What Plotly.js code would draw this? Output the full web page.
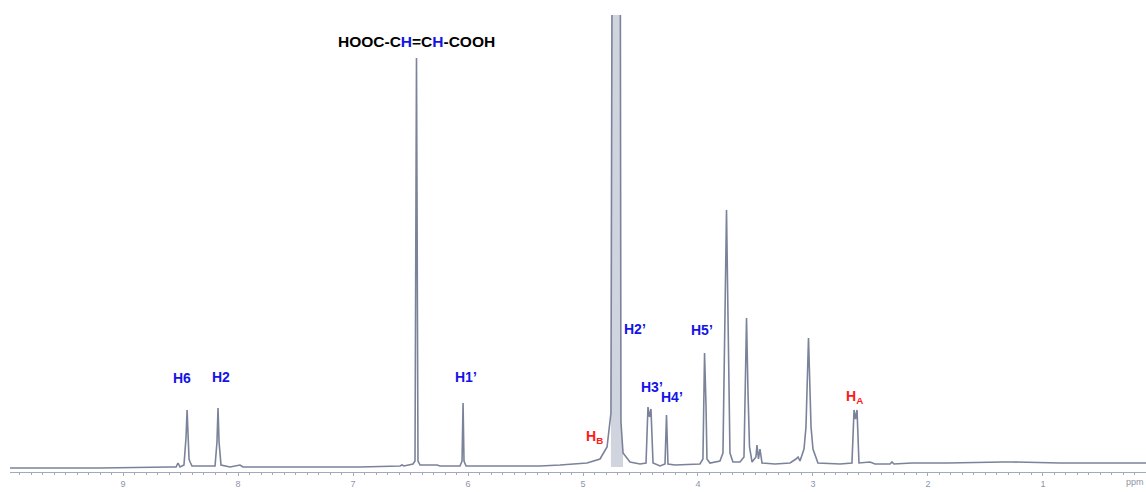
<!DOCTYPE html>
<html>
<head>
<meta charset="utf-8">
<script src="https://cdn.plot.ly/plotly-3.0.1.min.js"></script>
<style>
  html, body { margin: 0; padding: 0; background: #ffffff; overflow: hidden; }
  #chart { width: 1146px; height: 492px; }
</style>
</head>
<body>
<div id="chart"></div>
<script>
// 1H NMR spectrum: chemical shift (ppm) and relative intensity
const shiftPpm = [
  9.983, 9.200, 8.591, 8.539, 8.522, 8.504, 8.470, 8.452, 8.443, 8.435, 8.426, 8.417, 8.400,
  8.200, 8.183, 8.174, 8.165, 8.148, 8.070, 7.983, 7.957, 7.461, 6.939,
  6.591, 6.574, 6.557, 6.478, 6.461, 6.448, 6.435, 6.417, 6.270, 6.243,
  6.070, 6.052, 6.043, 6.035, 6.017, 5.722, 5.374, 5.200, 4.965, 4.852, 4.791, 4.757,
  4.743, 4.678, 4.670, 4.652, 4.591, 4.504,
  4.452, 4.435, 4.422, 4.409, 4.391, 4.330, 4.287, 4.274, 4.261, 4.200,
  3.983, 3.957, 3.943, 3.930, 3.922, 3.896, 3.809, 3.783, 3.765, 3.752, 3.739, 3.722, 3.696,
  3.635, 3.600, 3.578, 3.565, 3.552, 3.530, 3.496, 3.487, 3.474, 3.461, 3.443, 3.330,
  3.200, 3.148, 3.130, 3.113, 3.078, 3.061, 3.039, 3.017, 3.000, 2.957, 2.765,
  2.661, 2.643, 2.630, 2.617, 2.600, 2.504, 2.461, 2.330, 2.313, 2.296, 2.139,
  1.835, 1.348, 1.261, 0.852, 0.104
];
const intensity = [
  -1, -1, 0, 0, 4, 0, 2, 30, 57, 28, 8, 5, 1,
  1, 25, 59, 25, 2, 0, 2, 0, 0, 0,
  1, 2, 1, 3, 6, 409, 6, 2, 2, 1,
  1, 6, 64, 6, 1, 1, 1, 2, 4, 8, 20, 54,
  700, 700, 45, 14, 5, 3,
  4, 60, 50, 58, 4, 1, 3, 52, 3, 2,
  3, 8, 114, 60, 8, 4, 6, 14, 150, 257, 150, 14, 5,
  5, 10, 149, 74, 20, 5, 10, 22, 8, 18, 4, 3,
  4, 8, 10, 6, 18, 40, 129, 40, 18, 4, 3,
  4, 57, 48, 57, 4, 5, 3, 3, 5, 3, 4,
  4, 5, 5, 4, 4
];
// The solvent (HDO) peak, drawn as a shaded column: first and last index in the arrays above
const solventPeakFrom = 44;
const solventPeakTo = 48;

// Peak labels: text, position (ppm, intensity) and colour
const labelText = ['H6', 'H2', 'H1’', 'H2’', 'H3’', 'H4’', 'H5’', 'H<sub>B</sub>', 'H<sub>A</sub>'];
const labelPpm  = [8.487, 8.148, 6.017, 4.548, 4.400, 4.226, 3.965, 4.904, 2.643];
const labelInt  = [89, 90, 90, 138, 80, 70, 137, 30, 70];
const labelColor = ['#1414e6', '#1414e6', '#1414e6', '#1414e6', '#1414e6', '#1414e6', '#1414e6', '#ff1a1a', '#ff1a1a'];

const compoundLabel = 'HOOC-C<span style="color:#1414e6">H</span>=C<span style="color:#1414e6">H</span>-COOH';
const compoundPpm = 6.452;
const compoundInt = 426;

const tickValues = [9, 8, 7, 6, 5, 4, 3, 2, 1];
const tickLabels = ['9', '8', '7', '6', '5', '4', '3', '2', '1'];
const unitLabel = 'ppm';
const unitPpm = 0.2;

const axisColor = '#a2aabb';
const lineColor = '#7a8399';

const annotations = labelText.map((t, i) => ({
  x: labelPpm[i], y: labelInt[i], xref: 'x', yref: 'y',
  text: t, showarrow: false, xanchor: 'center', yanchor: 'middle',
  font: { family: 'Liberation Sans, Arial, sans-serif', size: 14, color: labelColor[i], weight: 700 }
}));
annotations.push({
  x: compoundPpm, y: compoundInt, xref: 'x', yref: 'y',
  text: compoundLabel, showarrow: false, xanchor: 'center', yanchor: 'middle',
  font: { family: 'Liberation Sans, Arial, sans-serif', size: 15.5, color: '#000000', weight: 700 }
});
annotations.push({
  x: unitPpm, y: 0, xref: 'x', yref: 'paper', yshift: -3,
  text: unitLabel, showarrow: false, xanchor: 'center', yanchor: 'top',
  font: { family: 'Liberation Sans, Arial, sans-serif', size: 9, color: '#8d95a8' }
});

Plotly.newPlot('chart', [
  {
    type: 'scatter', mode: 'lines',
    x: shiftPpm.slice(solventPeakFrom, solventPeakTo + 1),
    y: intensity.slice(solventPeakFrom, solventPeakTo + 1),
    fill: 'tozeroy', fillcolor: 'rgba(150,160,185,0.45)',
    line: { width: 0 }, hoverinfo: 'skip'
  },
  {
    type: 'scatter', mode: 'lines',
    x: shiftPpm, y: intensity,
    line: { color: lineColor, width: 1.6 },
    hoverinfo: 'x+y'
  }
], {
  width: 1146, height: 492,
  margin: { l: 10, r: 0, t: 15, b: 20 },
  paper_bgcolor: '#ffffff', plot_bgcolor: '#ffffff',
  showlegend: false,
  xaxis: {
    range: [9.983, 0.104],
    showgrid: false, zeroline: false,
    showline: true, linecolor: axisColor, linewidth: 1,
    ticks: 'outside', ticklen: 3, tickcolor: axisColor, tickwidth: 1,
    tickvals: tickValues, ticktext: tickLabels,
    ticklabelstandoff: 0,
    tickfont: { family: 'Liberation Sans, Arial, sans-serif', size: 9, color: '#8d95a8' },
    minor: { dtick: 0.1, ticks: 'outside', ticklen: 2, tickcolor: axisColor, tickwidth: 1, showgrid: false },
    fixedrange: true
  },
  yaxis: {
    range: [-5, 452],
    visible: false, showgrid: false, zeroline: false, fixedrange: true
  },
  annotations: annotations
}, { displayModeBar: false, staticPlot: true });
</script>
</body>
</html>
